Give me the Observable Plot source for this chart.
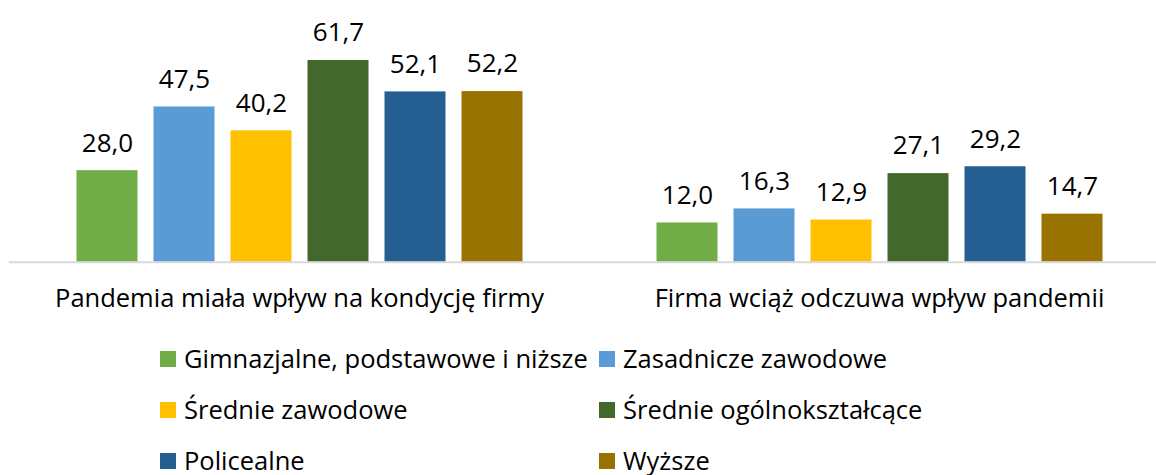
<!DOCTYPE html>
<html>
<head>
<meta charset="utf-8">
<script src="https://cdn.jsdelivr.net/npm/d3@7"></script>
<script src="https://cdn.jsdelivr.net/npm/@observablehq/plot@0.6"></script>
<style>
  html, body { margin: 0; padding: 0; background: #fff; }
  body { width: 1156px; height: 475px; overflow: hidden; font-family: "Open Sans", sans-serif; }
  #legend {
    display: grid;
    grid-template-columns: 439px auto;
    grid-auto-rows: 51px;
    padding-left: 160px;
    margin-top: 3px;
    font-size: 25.5px;
    line-height: 1;
    color: #000;
  }
  .item { display: flex; align-items: center; white-space: nowrap; }
  .sw { width: 16px; height: 16px; margin-right: 8px; flex: none; }
</style>
</head>
<body>
<div id="chart"></div>
<div id="legend"></div>
<script>
const groups = ["Pandemia miała wpływ na kondycję firmy", "Firma wciąż odczuwa wpływ pandemii"];
const series = [
  "Gimnazjalne, podstawowe i niższe",
  "Zasadnicze zawodowe",
  "Średnie zawodowe",
  "Średnie ogólnokształcące",
  "Policealne",
  "Wyższe"
];
const valuesGroup1 = [28.0, 47.5, 40.2, 61.7, 52.1, 52.2];
const valuesGroup2 = [12.0, 16.3, 12.9, 27.1, 29.2, 14.7];
const colors = ["#70ad47", "#5b9bd5", "#ffc000", "#43682b", "#255e91", "#997300"];

const table = [];
[valuesGroup1, valuesGroup2].forEach((vals, gi) => {
  vals.forEach((v, si) => table.push({group: groups[gi], series: series[si], value: v}));
});

const fmt = v => v.toFixed(1).replace(".", ",");

const chart = Plot.plot({
  width: 1156,
  height: 330,
  marginTop: 32.9,
  marginBottom: 68.3,
  marginLeft: 8.5,
  marginRight: 0,
  style: {fontFamily: "Open Sans", fontSize: "26px", color: "#000", background: "#fff"},
  fx: {domain: groups, range: [8.5, 1169.5], padding: 0},
  x: {domain: series, paddingInner: 0.211, paddingOuter: 0.864, axis: null},
  y: {domain: [0, 70], axis: null},
  color: {domain: series, range: colors},
  marks: [
    Plot.barY(table, {fx: "group", x: "series", y: "value", fill: "series"}),
    Plot.ruleY([0], {stroke: "#d9d9d9", strokeWidth: 2}),
    Plot.text(table, {fx: "group", x: "series", y: "value", text: d => fmt(d.value), dy: -27.5, fontSize: 26, fill: "#000"}),
    Plot.axisFx({anchor: "bottom", tickSize: 0, tickPadding: 27, label: null, fontSize: 25.5})
  ]
});
document.getElementById("chart").appendChild(chart);

const legend = document.getElementById("legend");
series.forEach((s, i) => {
  const item = document.createElement("div");
  item.className = "item";
  const sw = document.createElement("span");
  sw.className = "sw";
  sw.style.background = colors[i];
  const t = document.createElement("span");
  t.textContent = s;
  item.appendChild(sw);
  item.appendChild(t);
  legend.appendChild(item);
});
</script>
</body>
</html>
